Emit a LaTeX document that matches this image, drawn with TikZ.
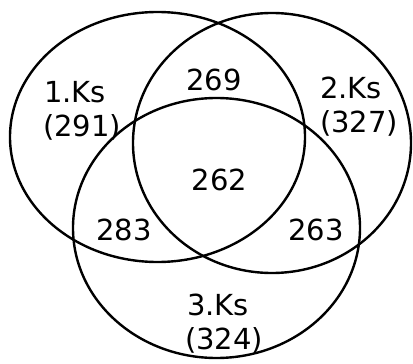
\documentclass[tikz,border=0pt]{standalone}
\usepackage{fontspec}
\setmainfont{DejaVu Sans}
\begin{document}
\begin{tikzpicture}[x=1pt,y=-1pt,
  set/.style={draw=black,line width=2.4pt},
  lbl/.style={inner sep=0pt,font=\fontsize{29}{34}\selectfont}]
\useasboundingbox (0,0) rectangle (413,364);
\draw[set] (157.5,137) ellipse [x radius=147.5, y radius=125];
\draw[set] (272,143) ellipse [x radius=139, y radius=130];
\draw[set] (216.5,228) ellipse [x radius=143.5, y radius=130];
\node[lbl,anchor=base west] (k1) at (44,102) {1.Ks};
\node[lbl,anchor=base west] (k1n) at (43,136) {(291)};
\node[lbl,anchor=base west] (k2) at (320,98) {2.Ks};
\node[lbl,anchor=base west] (k2n) at (320,132) {(327)};
\node[lbl,anchor=base west] (k3) at (187,315) {3.Ks};
\node[lbl,anchor=base west] (k3n) at (185,349) {(324)};
\node[lbl,anchor=base] (a12) at (214,90) {269};
\node[lbl,anchor=base] (a123) at (219.5,190) {262};
\node[lbl,anchor=base] (a13) at (124,240) {283};
\node[lbl,anchor=base] (a23) at (316,240) {263};
\end{tikzpicture}
\end{document}
